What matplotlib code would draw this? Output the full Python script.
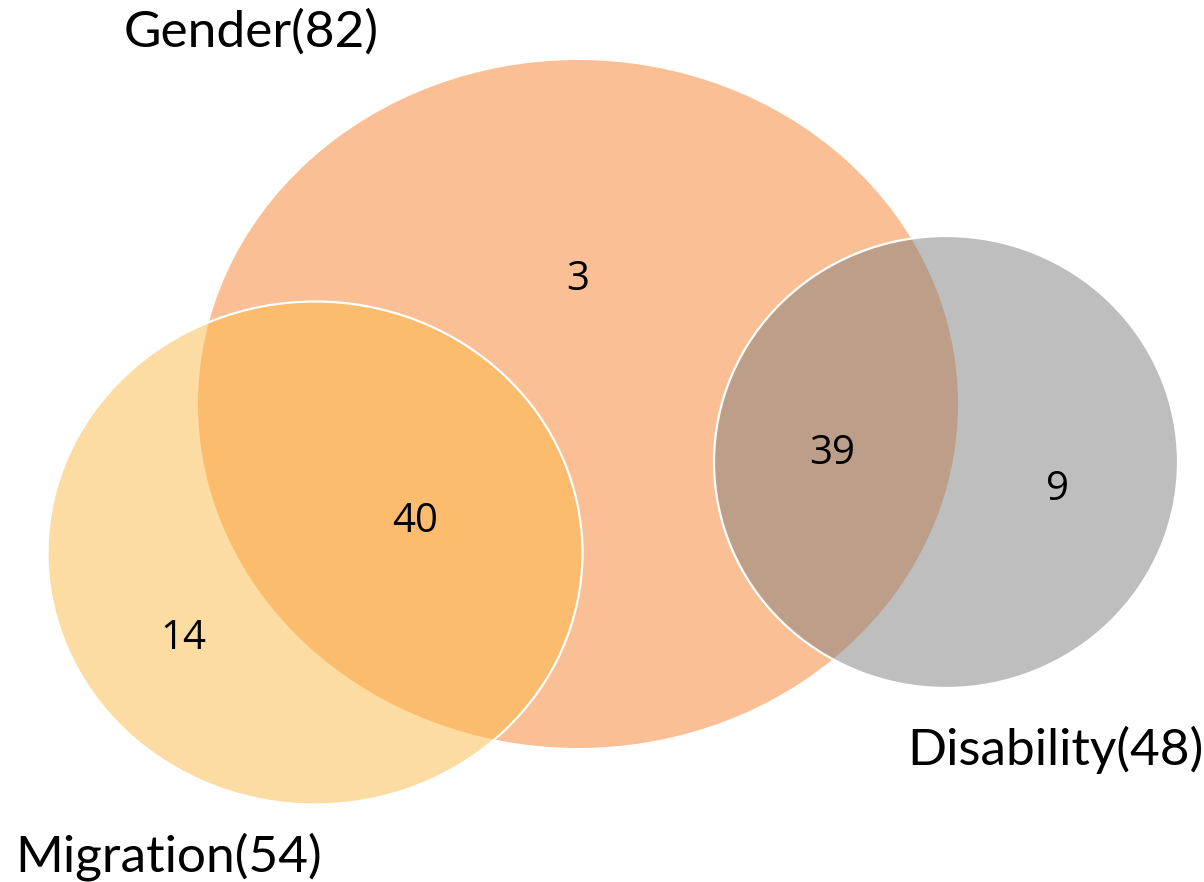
import matplotlib
matplotlib.use('Agg')
import matplotlib.pyplot as plt
from matplotlib.patches import Ellipse

# sets and region counts
set_names = ['Gender', 'Migration', 'Disability']
set_totals = [82, 54, 48]
region_labels = ['3', '40', '14', '39', '9']

fig = plt.figure(figsize=(12.04, 8.82), dpi=100)
ax = fig.add_axes([0, 0, 1, 1])
ax.set_xlim(0, 1204)
ax.set_ylim(882, 0)
ax.axis('off')

# Gender (base, opaque)
ax.add_patch(Ellipse((578, 404), 760, 688, facecolor='#FBBF95', edgecolor='none', zorder=1))
# Migration (semi transparent on top)
ax.add_patch(Ellipse((315, 553), 535, 503, facecolor=(251/255, 187/255, 71/255, 0.5),
                     edgecolor='white', lw=1.6, zorder=2))
# Disability
ax.add_patch(Ellipse((946, 462), 464, 452, facecolor=(127/255, 127/255, 127/255, 0.5),
                     edgecolor='white', lw=1.6, zorder=3))

lab_font = dict(family=['Lato', 'DejaVu Sans'], fontsize=37, color='black')
ax.text(251, 32, f'{set_names[0]}({set_totals[0]})', ha='center', va='center', **lab_font)
ax.text(169, 857, f'{set_names[1]}({set_totals[1]})', ha='center', va='center', **lab_font)
ax.text(1055, 750, f'{set_names[2]}({set_totals[2]})', ha='center', va='center', **lab_font)

num_font = dict(family=['Open Sans', 'DejaVu Sans'], fontsize=29, color='black', zorder=5)
ax.text(578, 280, region_labels[0], ha='center', va='center', **num_font)
ax.text(415, 522, region_labels[1], ha='center', va='center', **num_font)
ax.text(183, 639, region_labels[2], ha='center', va='center', **num_font)
ax.text(832, 454, region_labels[3], ha='center', va='center', **num_font)
ax.text(1057, 490, region_labels[4], ha='center', va='center', **num_font)

fig.savefig('out.png', dpi=100)
